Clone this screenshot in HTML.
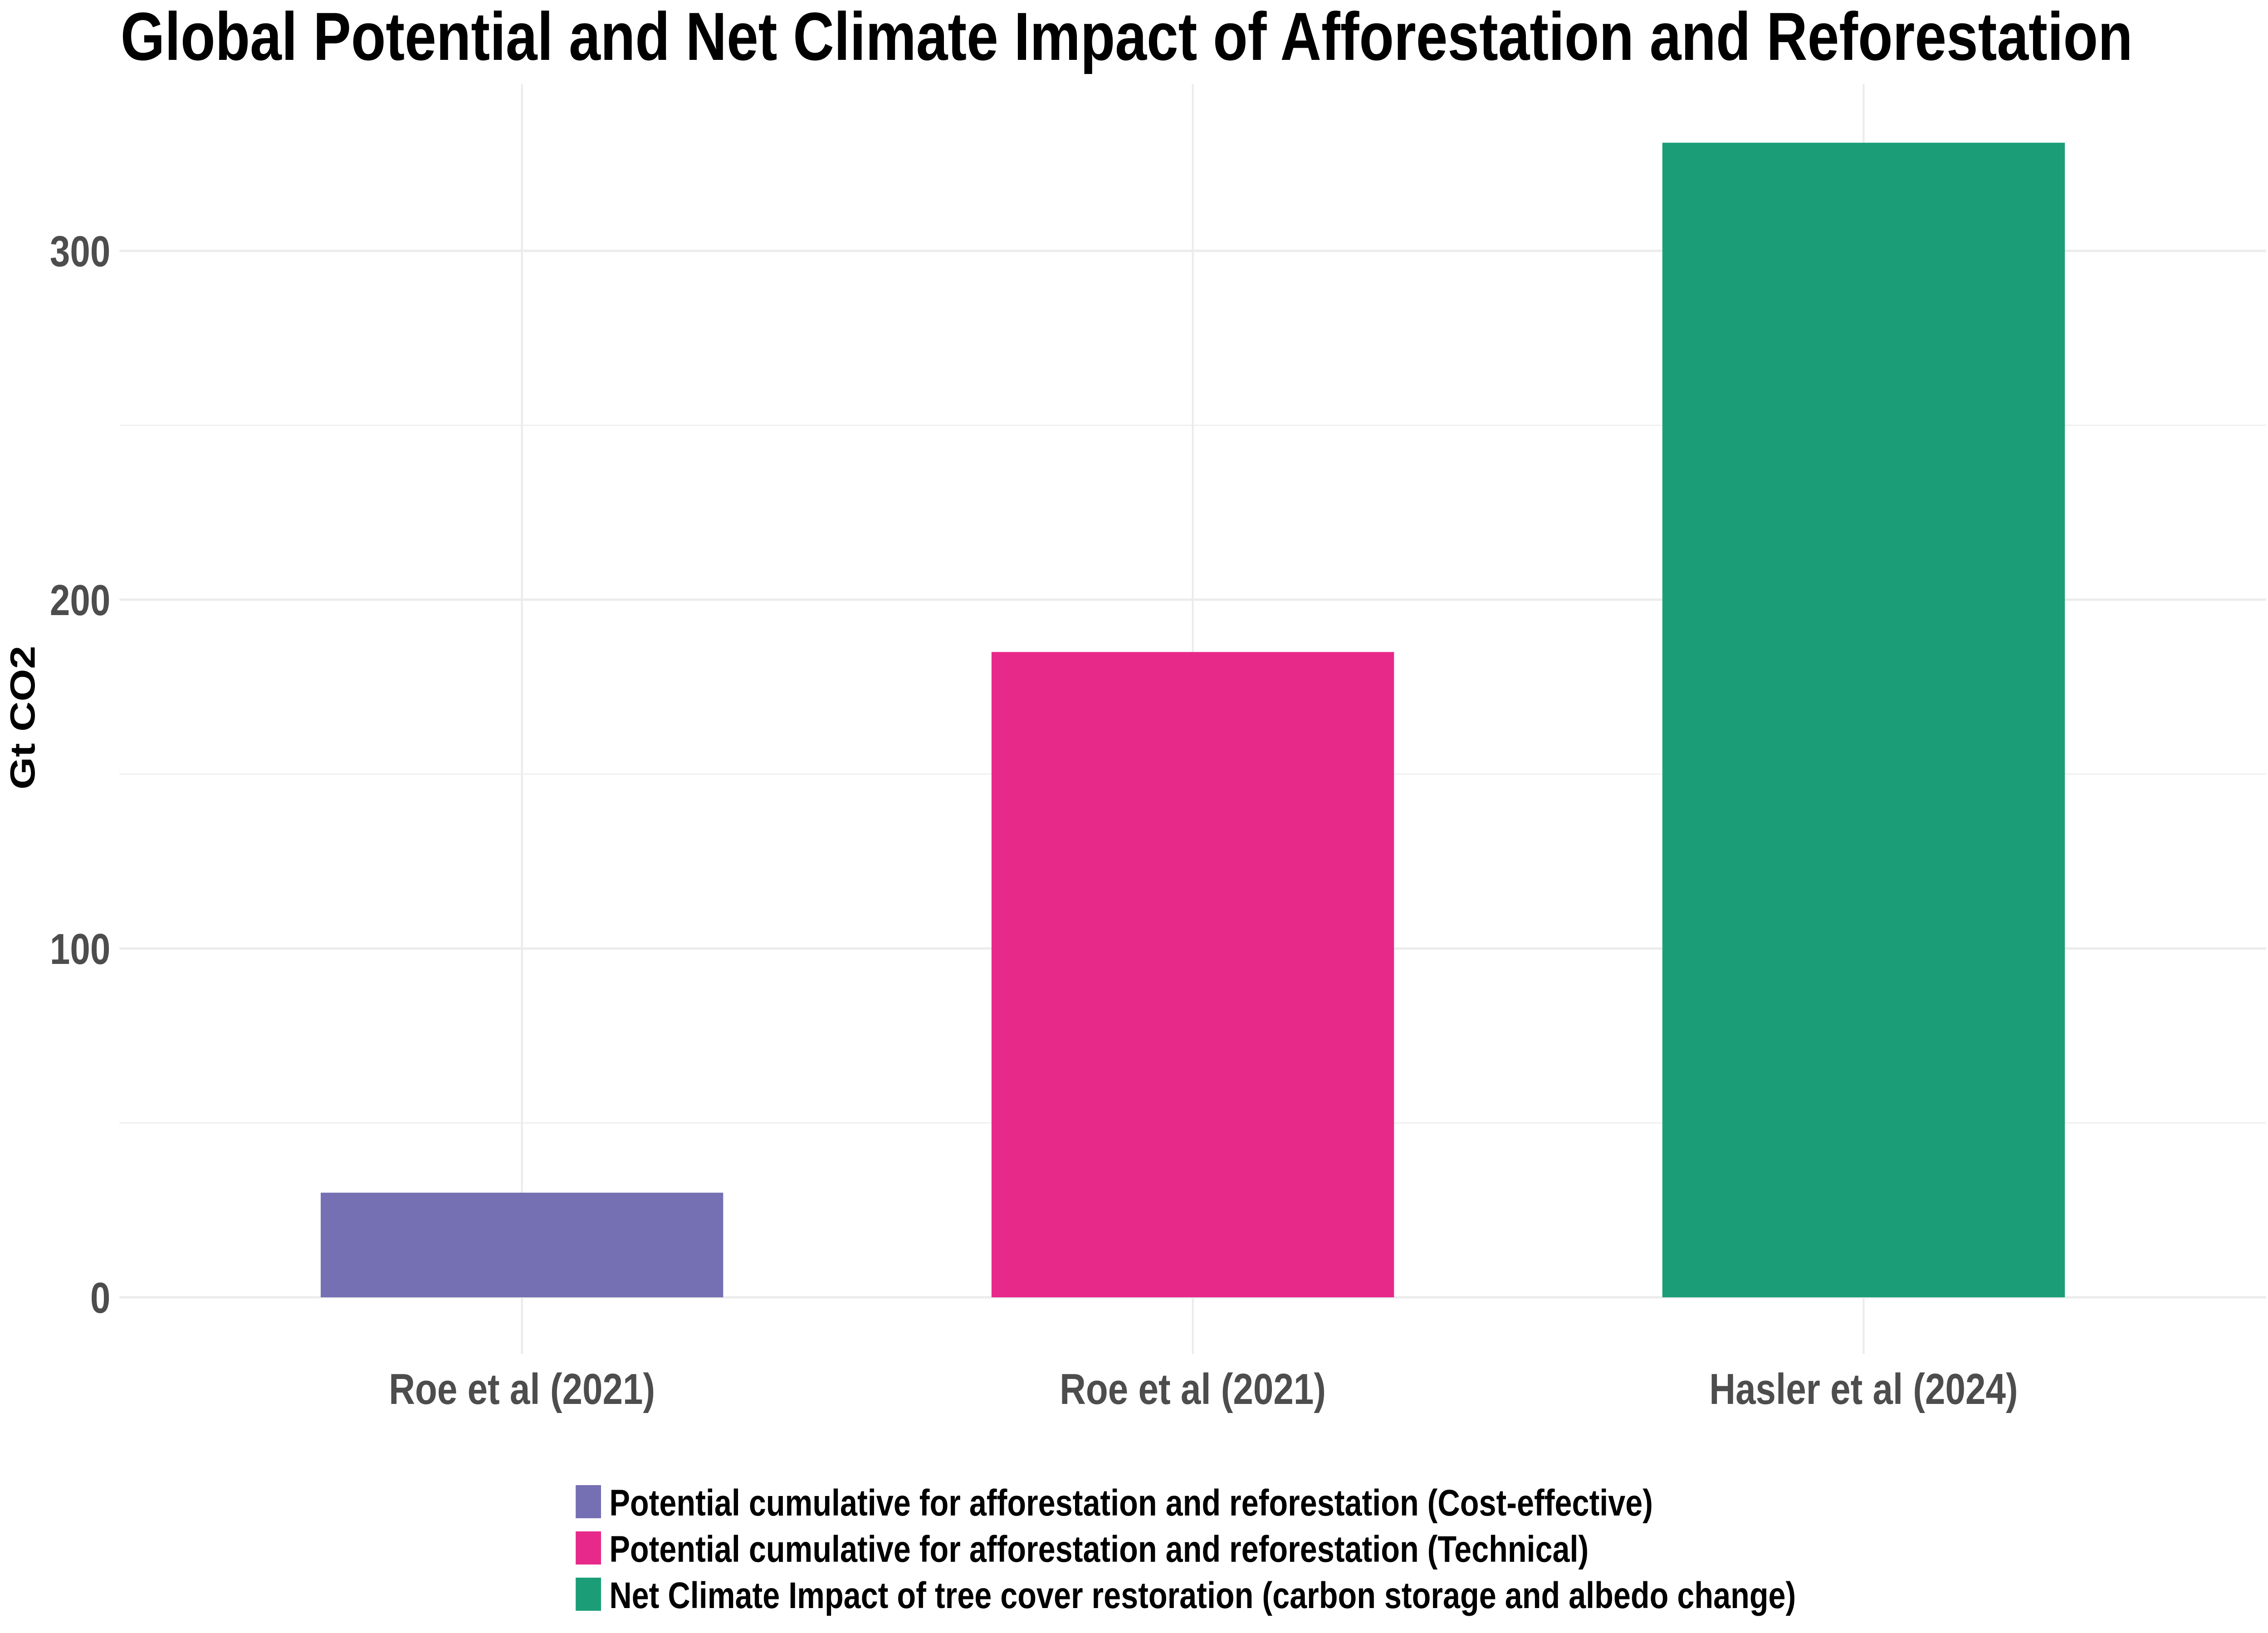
<!DOCTYPE html>
<html><head><meta charset="utf-8"><style>
html,body{margin:0;padding:0;background:#fff;width:100%;height:100%;overflow:hidden;}
svg{display:block;width:100vw;height:100vh;font-family:"Liberation Sans",Arial,sans-serif;font-weight:bold;}
</style></head><body>
<svg id="chart" viewBox="0 0 6000 3600" preserveAspectRatio="none" xmlns="http://www.w3.org/2000/svg">
<rect width="6000" height="3600" fill="#fff"/>
<text x="319" y="132" font-size="150" fill="#000" textLength="5323" lengthAdjust="spacingAndGlyphs">Global Potential and Net Climate Impact of Afforestation and Reforestation</text>
<g id="grid"></g>
<g id="bars"></g>
<g id="yticks"></g>
<g id="xticks"></g>
<text transform="translate(92,1582) rotate(-90)" text-anchor="middle" font-size="92" fill="#000">Gt CO2</text>
<g id="legend"></g>
</svg>
<script>
const categories = ["Roe et al (2021)", "Roe et al (2021)", "Hasler et al (2024)"];
const values = [30, 185, 331];
const seriesNames = ["Potential cumulative for afforestation and reforestation (Cost-effective)", "Potential cumulative for afforestation and reforestation (Technical)", "Net Climate Impact of tree cover restoration (carbon storage and albedo change)"];
const colors = ["#7570b3", "#e7298a", "#1b9e77"];
const majorTicks = [0, 100, 200, 300];
const minorTicks = [50, 150, 250];

const NS = "http://www.w3.org/2000/svg";
const plotL = 316, plotR = 5995, plotT = 186, y0 = 2860, pxPerUnit = 7.69;
const step = (plotR - plotL) / (categories.length + 0.2);
const yScale = v => y0 - v * pxPerUnit;
const xScale = i => plotL + step * (0.6 + i);
const barW = step * 0.6;
function mk(tag, attrs, parent) { const e = document.createElementNS(NS, tag); for (const k in attrs) e.setAttribute(k, attrs[k]); parent.appendChild(e); return e; }
const grid = document.getElementById('grid');
minorTicks.forEach(t => {
  const l = mk('line', {x1: plotL, x2: plotR, y1: yScale(t), y2: yScale(t), stroke: '#f0f0f0', 'stroke-width': 3}, grid);
  
  
});
majorTicks.forEach(t => {
  const l = mk('line', {x1: plotL, x2: plotR, y1: yScale(t), y2: yScale(t), stroke: '#ebebeb', 'stroke-width': 5}, grid);
  
  
});
categories.forEach((c, i) => {
  const l = mk('line', {x1: xScale(i), x2: xScale(i), y1: plotT, y2: 2985, stroke: '#ebebeb', 'stroke-width': 5}, grid);
  
  
});
const bars = document.getElementById('bars');
values.forEach((v, i) => {
  const r = mk('rect', {x: xScale(i) - barW / 2, y: yScale(v), width: barW, height: y0 - yScale(v), fill: colors[i]}, bars);
  
  
});
const yt = document.getElementById('yticks');
majorTicks.forEach(t => {
  const e = mk('text', {x: 292, y: yScale(t) + 34, 'text-anchor': 'end', 'font-size': 96, fill: '#4d4d4d'}, yt);
  e.textContent = t;
  
  
});
const xt = document.getElementById('xticks');
categories.forEach((c, i) => {
  const e = mk('text', {x: xScale(i), y: 3095, 'text-anchor': 'middle', 'font-size': 96, fill: '#4d4d4d'}, xt);
  e.textContent = c;
  
  
});
const lg = document.getElementById('legend');
seriesNames.forEach((s, i) => {
  const top = 3274 + i * 102;
  const k = mk('rect', {x: 1523, y: top, width: 67, height: 73, fill: colors[i]}, lg);
  
  
  const t = mk('text', {x: 1612, y: top + 67, 'font-size': 82, fill: '#000'}, lg);
  t.textContent = s;
  
  
});
</script>
</body></html>
